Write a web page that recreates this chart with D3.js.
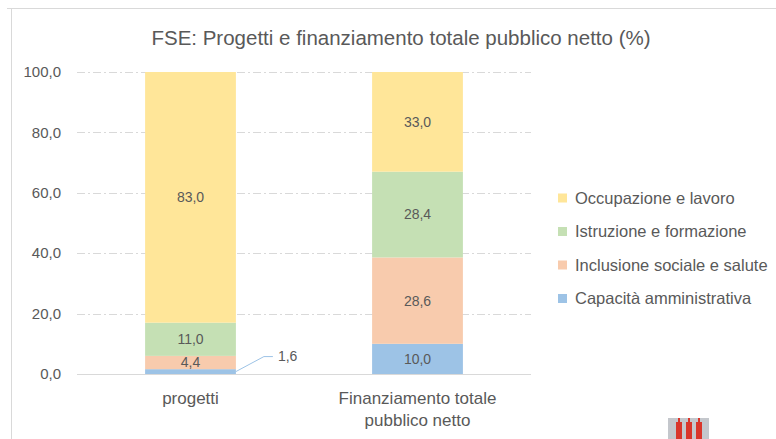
<!DOCTYPE html>
<html>
<head>
<meta charset="utf-8">
<script src="https://cdn.jsdelivr.net/npm/d3@7"></script>
<style>
  body { margin: 0; background: #fff; }
  svg text { font-family: "Liberation Sans", Arial, sans-serif; fill: #595959; }
</style>
</head>
<body>
<div id="chart"></div>
<script>
// categories and series (percent values)
const categories = ["progetti", "Finanziamento totale pubblico netto"];
const categoryLines = [["progetti"], ["Finanziamento totale", "pubblico netto"]];
const seriesNames = ["Capacità amministrativa", "Inclusione sociale e salute", "Istruzione e formazione", "Occupazione e lavoro"];
const capacita    = [1.6, 10.0];
const inclusione  = [4.4, 28.6];
const istruzione  = [11.0, 28.4];
const occupazione = [83.0, 33.0];
const yTicks = [0, 20, 40, 60, 80, 100];

const colors = ["#9DC3E6", "#F8CBAD", "#C5E0B4", "#FFE699"];

const W = 776, H = 439;
const plot = { left: 77, right: 531, top: 72, bottom: 374 };

const it = d3.formatLocale({ decimal: ",", thousands: ".", grouping: [3], currency: ["", "€"] });
const fmt = it.format(".1f");

const svg = d3.select("#chart").append("svg")
  .attr("width", W).attr("height", H);

// outer chart frame
svg.append("path")
  .attr("d", "M7,8.5 H776 M11.5,8.5 V439")
  .attr("stroke", "#d9d9d9").attr("fill", "none");

// title
svg.append("text")
  .attr("x", 401).attr("y", 45)
  .attr("text-anchor", "middle")
  .style("font-size", "20.5px")
  .text("FSE: Progetti e finanziamento totale pubblico netto (%)");

const x = d3.scaleBand()
  .domain(categories)
  .range([plot.left, plot.right])
  .paddingInner(0.6)
  .paddingOuter(0.3);

const y = d3.scaleLinear()
  .domain([0, 100])
  .range([plot.bottom, plot.top]);

// gridlines
svg.append("g").selectAll("line")
  .data(yTicks.filter(d => d > 0))
  .join("line")
  .attr("x1", plot.left).attr("x2", plot.right)
  .attr("y1", d => Math.round(y(d)) + 0.5).attr("y2", d => Math.round(y(d)) + 0.5)
  .attr("stroke", "#d9d9d9")
  .attr("stroke-dasharray", "8,3,2,3");

// y labels
svg.append("g").selectAll("text")
  .data(yTicks)
  .join("text")
  .attr("x", 61).attr("y", d => y(d))
  .attr("dy", "0.35em")
  .attr("text-anchor", "end")
  .style("font-size", "15px")
  .text(d => fmt(d));

// stacked data
const rows = categories.map((c, i) => ({
  cat: c,
  [seriesNames[0]]: capacita[i],
  [seriesNames[1]]: inclusione[i],
  [seriesNames[2]]: istruzione[i],
  [seriesNames[3]]: occupazione[i]
}));
const stacked = d3.stack().keys(seriesNames)(rows);

const layers = svg.append("g").selectAll("g")
  .data(stacked)
  .join("g")
  .attr("fill", (d, i) => colors[i]);

layers.selectAll("rect")
  .data(d => d)
  .join("rect")
  .attr("x", d => x(d.data.cat))
  .attr("width", x.bandwidth())
  .attr("y", d => y(d[1]))
  .attr("height", d => y(d[0]) - y(d[1]));

// baseline
svg.append("line")
  .attr("x1", plot.left).attr("x2", plot.right)
  .attr("y1", plot.bottom + 0.5).attr("y2", plot.bottom + 0.5)
  .attr("stroke", "#d9d9d9");

// data labels
const labels = [];
stacked.forEach((layer, si) => {
  layer.forEach(d => {
    labels.push({ cat: d.data.cat, v: d[1] - d[0], mid: (d[0] + d[1]) / 2, si: si });
  });
});
const small = labels.filter(l => l.v < 3);
svg.append("g").selectAll("text")
  .data(labels.filter(l => l.v >= 3))
  .join("text")
  .attr("x", d => x(d.cat) + x.bandwidth() / 2)
  .attr("y", d => y(d.mid))
  .attr("dy", "0.35em")
  .attr("text-anchor", "middle")
  .style("font-size", "14px")
  .text(d => fmt(d.v));

// outside label with leader line
small.forEach(d => {
  const x0 = x(d.cat) + x.bandwidth();
  const y0 = y(d.mid);
  const yL = y0 - 15;
  svg.append("path")
    .attr("d", `M${x0},${y0} L${x0 + 28},${yL} H${x0 + 37}`)
    .attr("stroke", colors[d.si]).attr("stroke-width", 1).attr("fill", "none");
  svg.append("text")
    .attr("x", x0 + 42).attr("y", yL)
    .attr("dy", "0.35em")
    .style("font-size", "14px")
    .text(fmt(d.v));
});

// category labels
categories.forEach((c, i) => {
  const t = svg.append("text")
    .attr("text-anchor", "middle")
    .style("font-size", "17px");
  categoryLines[i].forEach((line, j) => {
    t.append("tspan")
      .attr("x", x(c) + x.bandwidth() / 2)
      .attr("y", 404 + j * 22)
      .text(line);
  });
});

// legend (top = last series)
const legend = svg.append("g").selectAll("g")
  .data(seriesNames.map((n, i) => ({ n, i })).reverse())
  .join("g")
  .attr("transform", (d, k) => `translate(558,${198 + k * 33.5})`);
legend.append("rect")
  .attr("x", 0).attr("y", -4.5).attr("width", 9).attr("height", 9)
  .attr("fill", d => colors[d.i]);
legend.append("text")
  .attr("x", 17).attr("dy", "0.35em")
  .style("font-size", "16.5px")
  .text(d => d.n);

// small decorative logo bottom right
const logo = svg.append("g").attr("transform", "translate(668,418)");
logo.append("rect").attr("width", 41).attr("height", 21).attr("fill", "#c4c7cc");
[8, 18, 28].forEach(px => {
  logo.append("rect").attr("x", px).attr("y", 4).attr("width", 6).attr("height", 17).attr("fill", "#d9362b");
  logo.append("rect").attr("x", px + 2).attr("y", 0).attr("width", 2).attr("height", 5).attr("fill", "#d9362b");
});
</script>
</body>
</html>
